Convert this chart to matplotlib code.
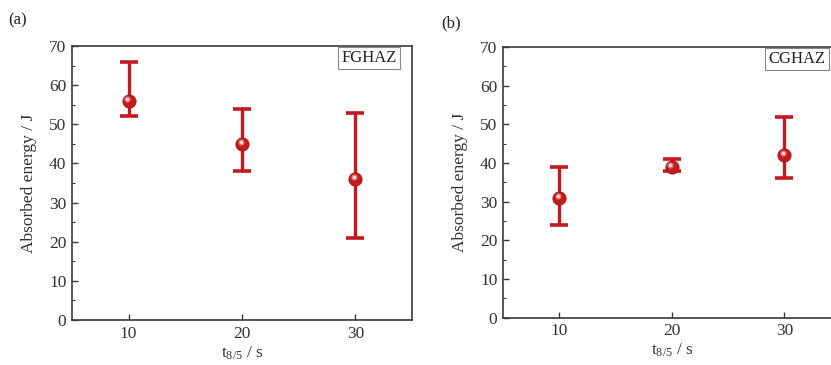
import matplotlib
matplotlib.use("Agg")
import matplotlib.pyplot as plt
import matplotlib.transforms as mtransforms

plt.rcParams['font.family'] = ['Liberation Serif', 'DejaVu Serif']
plt.rcParams['mathtext.fontset'] = 'custom'
plt.rcParams['mathtext.rm'] = 'Liberation Serif'
plt.rcParams['mathtext.it'] = 'Liberation Serif:italic'

t85 = [10, 20, 30]
fghaz_mean = [56, 45, 36]
fghaz_low = [52, 38, 21]
fghaz_high = [66, 54, 53]
cghaz_mean = [31, 39, 42]
cghaz_low = [24, 38, 36]
cghaz_high = [39, 41, 52]
panel_labels = ['(a)', '(b)']
zone_labels = ['FGHAZ', 'CGHAZ']
yticks = [0, 10, 20, 30, 40, 50, 60, 70]
xticks = [10, 20, 30]

RED = '#C41A1D'
SPINE = '#3a3a3a'

fig = plt.figure(figsize=(8.31, 3.65), dpi=100)
ax_a = fig.add_axes([0.0866, 0.1233, 0.4092, 0.7507])
ax_b = fig.add_axes([0.6053, 0.1296, 0.4063, 0.7416])

datasets = [(fghaz_mean, fghaz_low, fghaz_high), (cghaz_mean, cghaz_low, cghaz_high)]

for ax, (mean, low, high), zl in zip([ax_a, ax_b], datasets, zone_labels):
    yerr = [[m - l for m, l in zip(mean, low)], [h - m for m, h in zip(mean, high)]]
    ax.errorbar(t85, mean, yerr=yerr, fmt='none', ecolor=RED, elinewidth=2.4,
                capsize=6.8, capthick=2.6, zorder=2)
    ax.plot(t85, mean, 'o', color=RED, markersize=9.5, markeredgecolor='#a01216',
            markeredgewidth=0.6, zorder=3, linestyle='none')
    off = mtransforms.ScaledTranslation(-1.0 / 72, 1.4 / 72, fig.dpi_scale_trans)
    ax.plot(t85, mean, 'o', color='#e88a8a', markersize=4.5, markeredgewidth=0,
            alpha=0.8, zorder=4, transform=ax.transData + off, linestyle='none')
    ax.plot(t85, mean, 'o', color='#fbe6e6', markersize=2.5, markeredgewidth=0,
            alpha=0.95, zorder=5, transform=ax.transData + off, linestyle='none')
    ax.set_xlim(5, 35)
    ax.set_ylim(0, 70)
    ax.set_xticks(xticks)
    ax.set_yticks(yticks)
    ax.set_yticks(range(5, 70, 10), minor=True)
    ax.tick_params(axis='both', which='major', direction='in', length=4, width=1.0,
                   colors=SPINE, labelsize=12.5, labelcolor='#333333', pad=4)
    ax.tick_params(axis='y', which='minor', direction='in', length=2.5, width=0.8, colors=SPINE)
    ax.tick_params(top=False, right=False)
    for s in ax.spines.values():
        s.set_color(SPINE)
        s.set_linewidth(1.2)
    ax.set_xlabel(r't$_{\mathrm{8/5}}$ / s', fontsize=12.5, color='#333333', labelpad=2)
    ax.set_ylabel('Absorbed energy / J', fontsize=12.5, color='#333333', labelpad=9)
    ax.text(0.955, 0.985, zl, transform=ax.transAxes, ha='right', va='top', fontsize=12,
            color='#222222',
            bbox=dict(boxstyle='square,pad=0.2', facecolor='white', edgecolor='#888888',
                      linewidth=0.8))

fig.text(0.010, 0.945, panel_labels[0], fontsize=12, color='#222222', va='center')
fig.text(0.531, 0.935, panel_labels[1], fontsize=12, color='#222222', va='center')

fig.savefig('out.png', dpi=100)
